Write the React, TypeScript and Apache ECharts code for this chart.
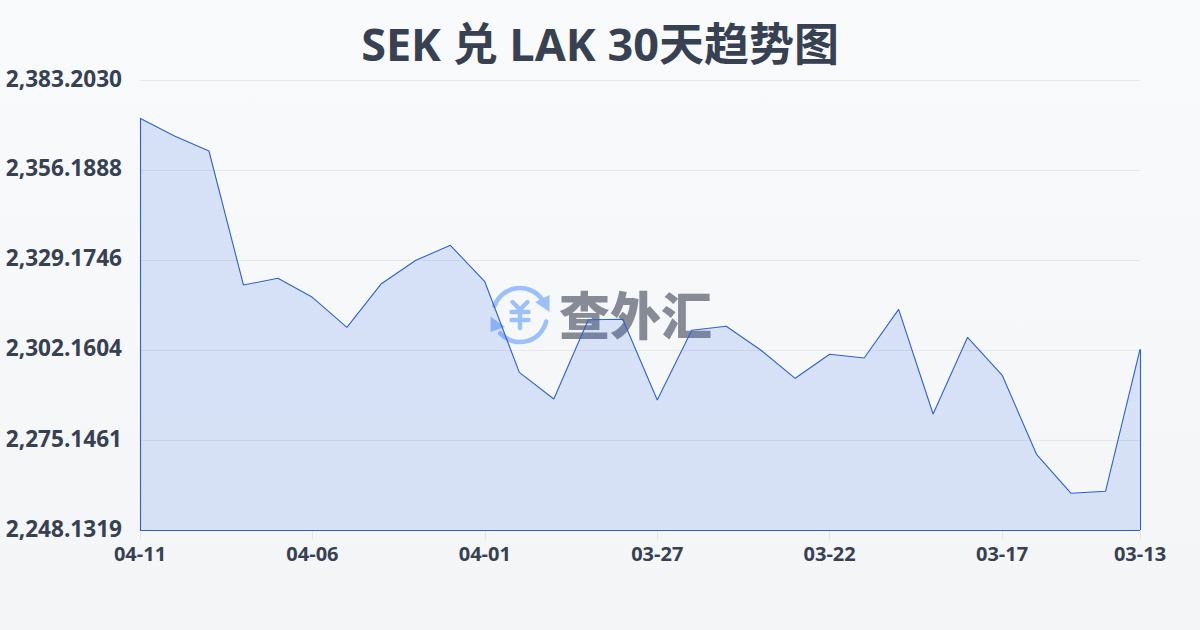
import React, { useEffect, useRef } from "react";
import * as echarts from "echarts";

const titleText = "SEK 兑 LAK 30天趋势图";
const watermarkText = "查外汇";
const dates = ["04-11","04-10","04-09","04-08","04-07","04-06","04-05","04-04","04-03","04-02","04-01","03-31","03-30","03-29","03-28","03-27","03-26","03-25","03-24","03-23","03-22","03-21","03-20","03-19","03-18","03-17","03-16","03-15","03-14","03-13"];
const rates = [2371.70,2366.39,2361.89,2321.67,2323.68,2317.98,2308.97,2322.06,2329.08,2333.58,2322.66,2295.46,2287.45,2311.25,2311.37,2287.15,2308.07,2309.27,2302.16,2293.66,2300.87,2299.76,2314.37,2282.95,2305.97,2294.65,2270.85,2259.15,2259.75,2302.37];
const yTicks = [2248.1319,2275.1461,2302.1604,2329.1746,2356.1888,2383.2030];

const FONT = '"Open Sans", "Noto Sans CJK SC", sans-serif';
const TEXT = "#374151";
const LINE = "#2f62c9";
const GRIDLINE = "#e5e7eb";
const LOGO = "#9bc0fb";
const deg = (d: number) => (d * Math.PI) / 180;

export default function App() {
  const ref = useRef<HTMLDivElement>(null);
  useEffect(() => {
    document.body.style.margin = "0";
    const chart = echarts.init(ref.current!, undefined, { renderer: "svg" });
    const last = dates.length - 1;
    const minY = yTicks[0];
    const showTick = (i: number) => i % 5 === 0 || i === last;
    const logoLine = (x1: number, y1: number, x2: number, y2: number) => ({
      type: "line", z: 0, silent: true,
      shape: { x1, y1, x2, y2 },
      style: { stroke: LOGO, lineWidth: 4.4, lineCap: "round" },
    });
    chart.setOption({
      animation: false,
      backgroundColor: {
        type: "linear", x: 0, y: 0, x2: 0, y2: 1,
        colorStops: [{ offset: 0, color: "#f9fafc" }, { offset: 1, color: "#f3f5f7" }],
      },
      title: {
        text: titleText, left: "center", top: 16,
        textStyle: { fontFamily: FONT, fontSize: 45, fontWeight: 700, color: TEXT },
      },
      grid: { left: 140, right: 60, top: 80, bottom: 100, containLabel: false },
      xAxis: {
        type: "category", data: dates, boundaryGap: false,
        axisLine: { show: false },
        axisTick: { show: true, length: 10, interval: (i: number) => showTick(i), lineStyle: { color: GRIDLINE, width: 1 } },
        axisLabel: {
          interval: (i: number) => showTick(i), margin: 13,
          fontFamily: FONT, fontSize: 20, fontWeight: 700, color: TEXT, hideOverlap: false,
        },
        splitLine: { show: false },
      },
      yAxis: {
        type: "value", min: yTicks[0], max: yTicks[yTicks.length - 1],
        axisLine: { show: false },
        axisTick: { show: false, customValues: yTicks },
        axisLabel: {
          customValues: yTicks, margin: 18, verticalAlign: "bottom", lineHeight: 4,
          fontFamily: FONT, fontSize: 22.6, fontWeight: 700, color: TEXT,
          formatter: (v: number) => v.toLocaleString("en-US", { minimumFractionDigits: 4, maximumFractionDigits: 4 }),
        },
        splitLine: { show: true, lineStyle: { color: GRIDLINE, width: 1 } },
      },
      graphic: [
        { type: "arc", z: 0, silent: true, shape: { cx: 520, cy: 315, r: 27, startAngle: deg(200), endAngle: deg(324), clockwise: true }, style: { stroke: LOGO, lineWidth: 4.6, fill: "none", lineCap: "round" } },
        { type: "arc", z: 0, silent: true, shape: { cx: 520, cy: 315, r: 27, startAngle: deg(14), endAngle: deg(137), clockwise: true }, style: { stroke: LOGO, lineWidth: 4.6, fill: "none", lineCap: "round" } },
        { type: "polygon", z: 0, silent: true, shape: { points: [[549.5, 295], [549.5, 312], [535, 302]] }, style: { fill: LOGO } },
        { type: "polygon", z: 0, silent: true, shape: { points: [[490.5, 316.5], [490.5, 332], [505, 327]] }, style: { fill: LOGO } },
        logoLine(512.5, 302, 520, 309.5),
        logoLine(527.5, 302, 520, 309.5),
        logoLine(511.5, 312, 528.5, 312),
        logoLine(511.5, 320, 528.5, 320),
        logoLine(520, 309.5, 520, 328),
        {
          type: "text", z: 0, silent: true, x: 559, y: 287,
          style: { text: watermarkText, fontFamily: '"Noto Sans CJK SC"', fontSize: 51, fontWeight: 900, fill: "#878b95" },
        },
      ],
      series: [{
        type: "line", data: rates, z: 2, symbol: "none", smooth: false,
        lineStyle: { color: LINE, width: 1.1 },
        areaStyle: {
          origin: "start",
          color: {
            type: "linear", x: 0, y: 0, x2: 0, y2: 1,
            colorStops: [{ offset: 0, color: "rgba(37,99,235,0.16)" }, { offset: 1, color: "rgba(37,99,235,0.14)" }],
          },
          opacity: 1,
        },
        markLine: {
          silent: true, symbol: ["none", "none"], animation: false, label: { show: false },
          lineStyle: { color: LINE, width: 1.1, type: "solid" },
          emphasis: { disabled: true },
          data: [
            [{ coord: [dates[0], rates[0]] }, { coord: [dates[0], minY] }],
            [{ coord: [dates[0], minY] }, { coord: [dates[last], minY] }],
            [{ coord: [dates[last], minY] }, { coord: [dates[last], rates[last]] }],
          ],
        },
      }],
    });
    return () => chart.dispose();
  }, []);
  return <div ref={ref} style={{ width: 1200, height: 630 }} />;
}
